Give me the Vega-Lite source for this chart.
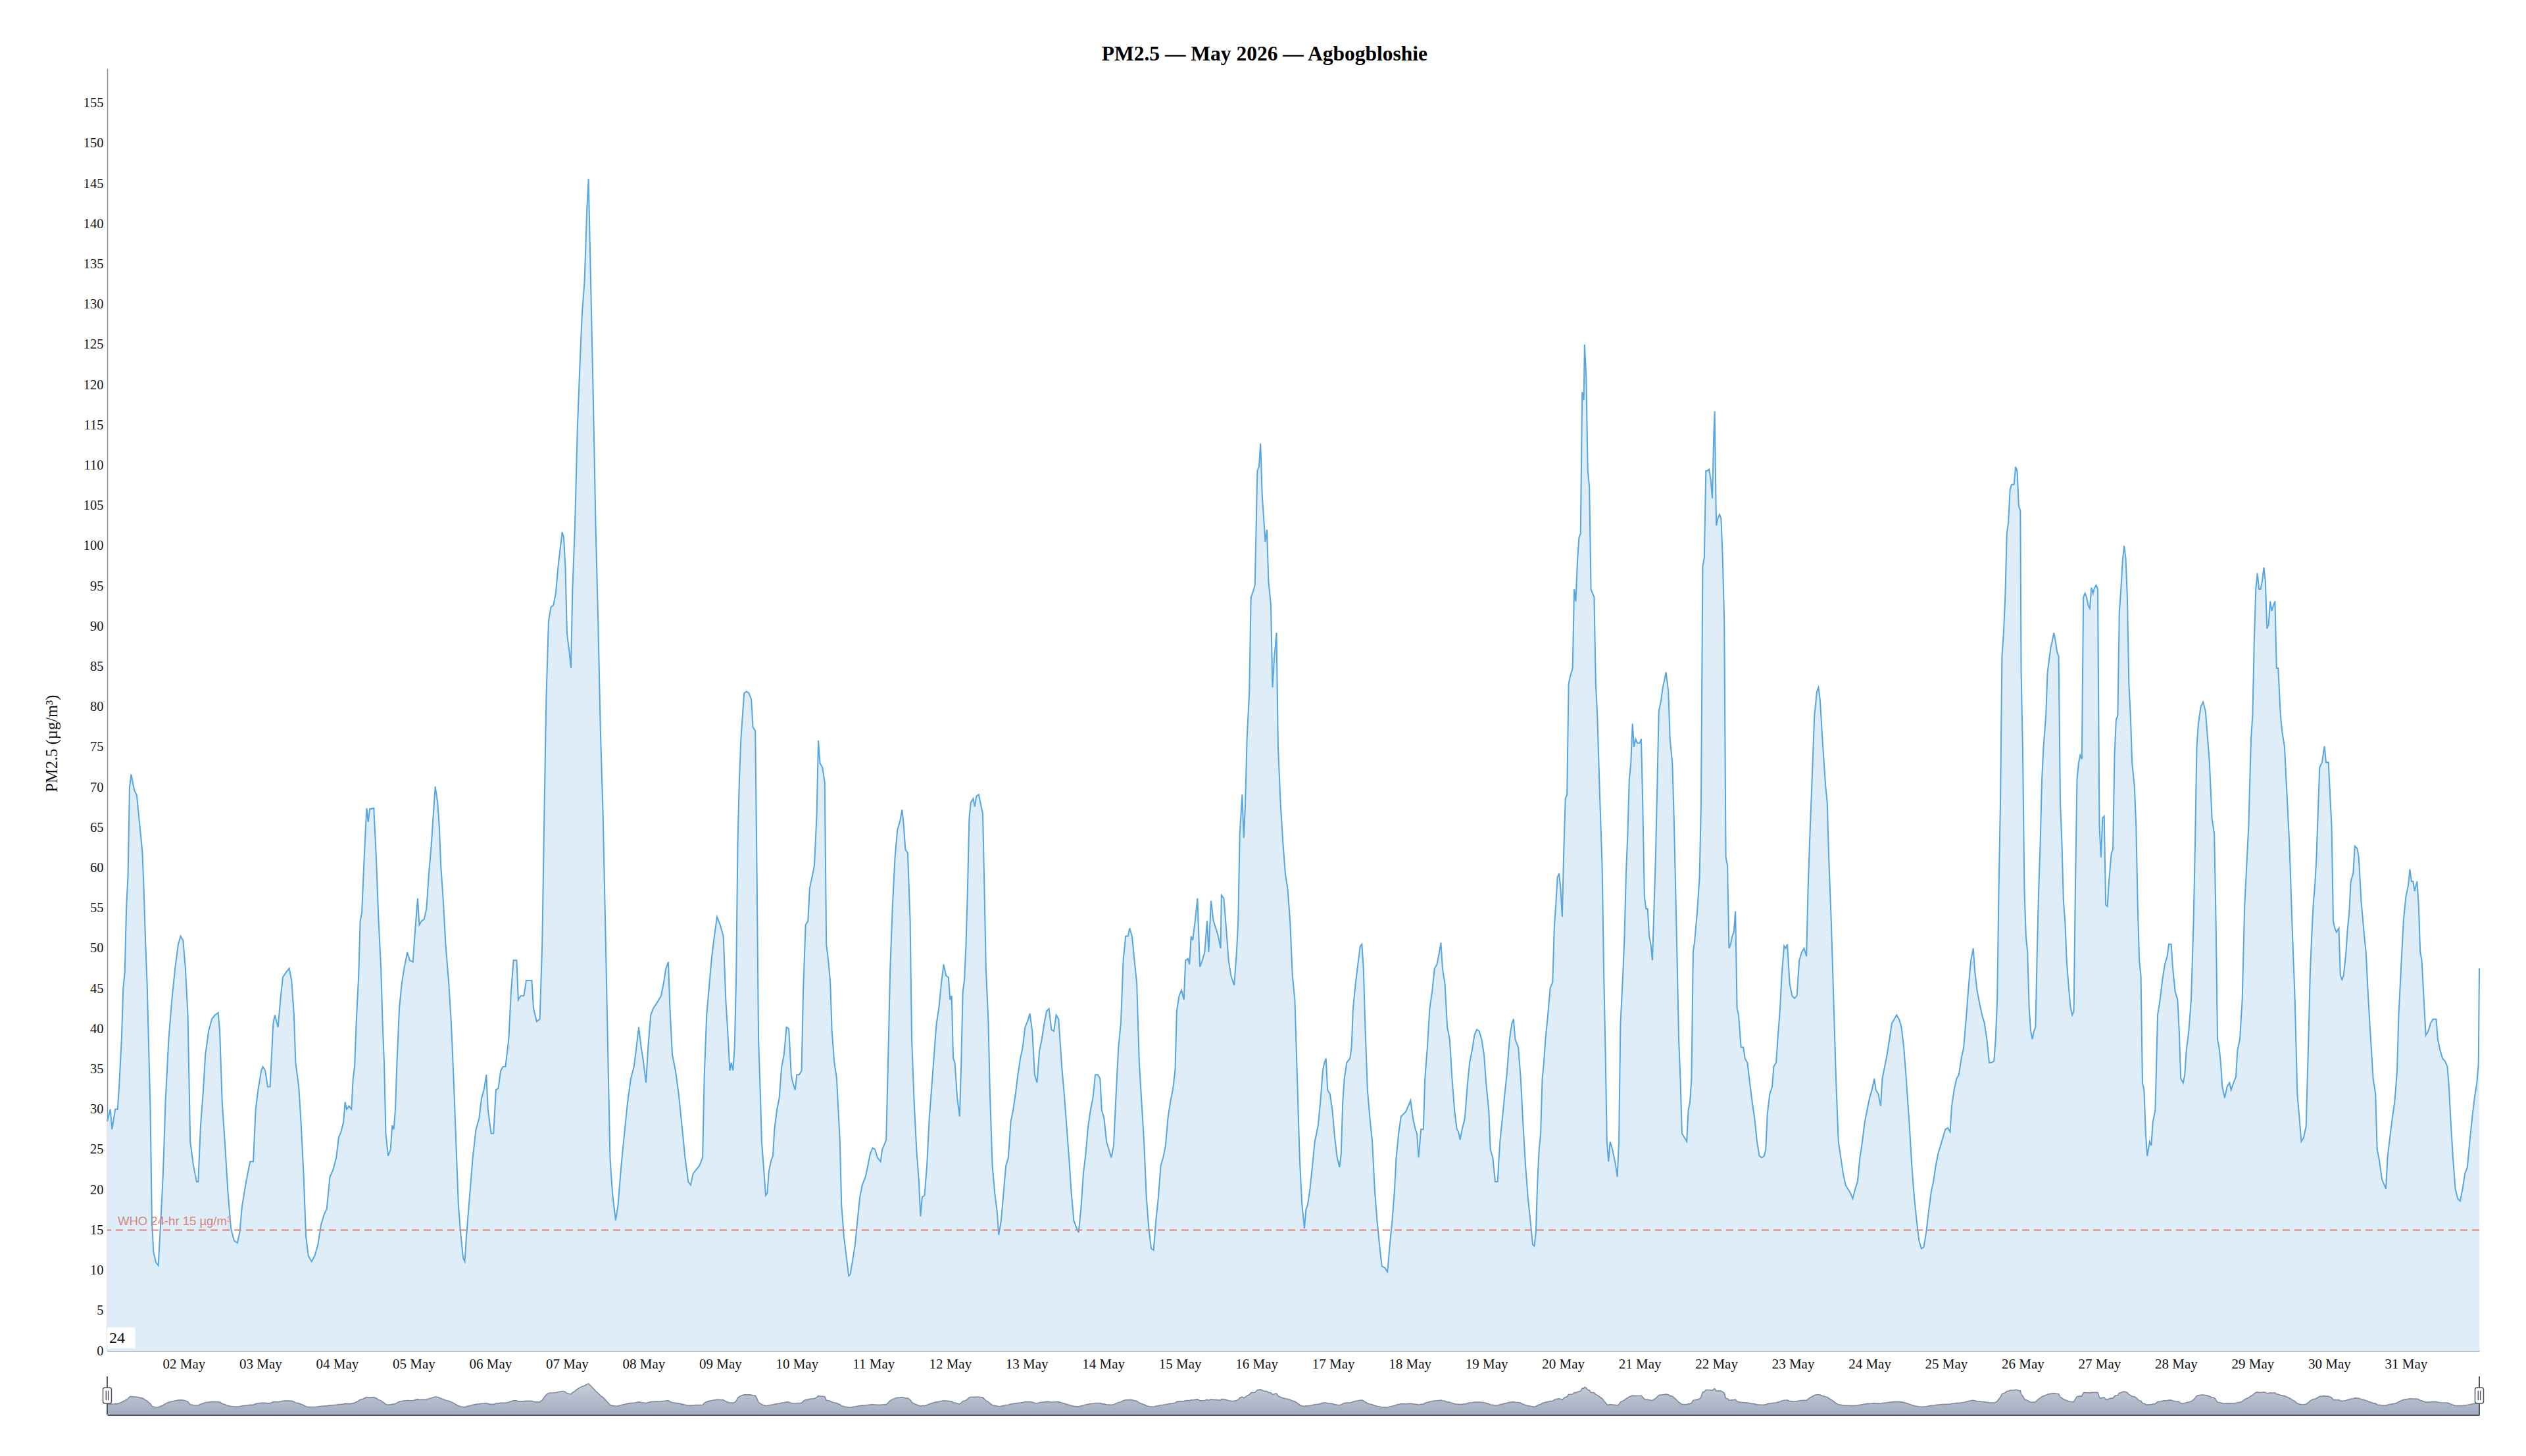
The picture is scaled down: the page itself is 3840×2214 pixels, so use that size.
{
  "$schema": "https://vega.github.io/schema/vega-lite/v6.json",
  "background": "white",
  "padding": {"left": 66, "top": 66, "right": 70, "bottom": 10},
  "title": {
    "text": "PM2.5 — May 2026 — Agbogbloshie",
    "font": "Liberation Serif",
    "fontSize": 31.5,
    "fontWeight": "bold",
    "color": "#000000",
    "anchor": "middle",
    "frame": "bounds",
    "offset": 6
  },
  "config": {
    "view": {"stroke": null},
    "axis": {
      "grid": false,
      "ticks": false,
      "labelFont": "Liberation Serif",
      "titleFont": "Liberation Serif",
      "labelColor": "#111111",
      "titleColor": "#111111",
      "domainColor": "#8c929c",
      "domainWidth": 1.5
    }
  },
  "datasets": {
    "pm": [
      {"t":"2026-05-01T00:00","v":28.5},{"t":"2026-05-01T01:00","v":30},{"t":"2026-05-01T01:30","v":27.5},{"t":"2026-05-01T02:30","v":30},{"t":"2026-05-01T03:15","v":30},{"t":"2026-05-01T03:45","v":33},{"t":"2026-05-01T04:30","v":38.7},{"t":"2026-05-01T05:00","v":45},{"t":"2026-05-01T05:30","v":47},{"t":"2026-05-01T06:00","v":55},{"t":"2026-05-01T06:30","v":59},{"t":"2026-05-01T07:00","v":70},{"t":"2026-05-01T07:30","v":71.6},{"t":"2026-05-01T08:30","v":69.6},{"t":"2026-05-01T09:15","v":69},{"t":"2026-05-01T10:15","v":65},{"t":"2026-05-01T11:00","v":62},{"t":"2026-05-01T11:30","v":57},{"t":"2026-05-01T12:00","v":50.5},{"t":"2026-05-01T12:30","v":45.6},{"t":"2026-05-01T13:00","v":37.7},{"t":"2026-05-01T13:30","v":30},{"t":"2026-05-01T14:00","v":16},{"t":"2026-05-01T14:30","v":12.3},{"t":"2026-05-01T15:15","v":11},{"t":"2026-05-01T16:00","v":10.6},{"t":"2026-05-01T16:45","v":16},{"t":"2026-05-01T17:30","v":22},{"t":"2026-05-01T18:15","v":31},{"t":"2026-05-01T19:15","v":38.7},{"t":"2026-05-01T20:15","v":43.6},{"t":"2026-05-01T21:15","v":47.5},{"t":"2026-05-01T22:15","v":50.5},{"t":"2026-05-01T23:00","v":51.5},{"t":"2026-05-01T23:45","v":51},
      {"t":"2026-05-02T00:30","v":47.5},{"t":"2026-05-02T01:15","v":41.7},{"t":"2026-05-02T02:00","v":26},{"t":"2026-05-02T03:00","v":23},{"t":"2026-05-02T04:00","v":21},{"t":"2026-05-02T04:30","v":21},{"t":"2026-05-02T05:15","v":28},{"t":"2026-05-02T06:00","v":31.9},{"t":"2026-05-02T06:45","v":36.8},{"t":"2026-05-02T07:45","v":39.7},{"t":"2026-05-02T08:45","v":41.2},{"t":"2026-05-02T09:45","v":41.7},{"t":"2026-05-02T10:45","v":42},{"t":"2026-05-02T11:15","v":39.7},{"t":"2026-05-02T12:00","v":30.9},{"t":"2026-05-02T13:00","v":25},{"t":"2026-05-02T13:45","v":20},{"t":"2026-05-02T14:45","v":15.2},{"t":"2026-05-02T15:45","v":13.7},{"t":"2026-05-02T16:45","v":13.4},{"t":"2026-05-02T17:30","v":14.7},{"t":"2026-05-02T18:15","v":18},{"t":"2026-05-02T19:30","v":21},{"t":"2026-05-02T20:45","v":23.5},{"t":"2026-05-02T21:45","v":23.5},{"t":"2026-05-02T22:30","v":30},{"t":"2026-05-02T23:15","v":32.4},
      {"t":"2026-05-03T00:15","v":34.8},{"t":"2026-05-03T00:45","v":35.3},{"t":"2026-05-03T01:30","v":34.8},{"t":"2026-05-03T02:15","v":32.8},{"t":"2026-05-03T03:00","v":32.8},{"t":"2026-05-03T04:00","v":40.7},{"t":"2026-05-03T04:30","v":41.7},{"t":"2026-05-03T05:30","v":40.2},{"t":"2026-05-03T06:15","v":43.6},{"t":"2026-05-03T07:00","v":46.4},{"t":"2026-05-03T08:00","v":47},{"t":"2026-05-03T09:00","v":47.5},{"t":"2026-05-03T09:45","v":46},{"t":"2026-05-03T10:30","v":41.7},{"t":"2026-05-03T11:00","v":35.8},{"t":"2026-05-03T12:00","v":32.8},{"t":"2026-05-03T12:45","v":28},{"t":"2026-05-03T13:30","v":22},{"t":"2026-05-03T14:15","v":14.2},{"t":"2026-05-03T15:00","v":11.8},{"t":"2026-05-03T16:00","v":11.1},{"t":"2026-05-03T17:00","v":11.8},{"t":"2026-05-03T18:00","v":13.2},{"t":"2026-05-03T19:00","v":15.7},{"t":"2026-05-03T20:00","v":17},{"t":"2026-05-03T20:45","v":17.6},{"t":"2026-05-03T21:45","v":21.6},{"t":"2026-05-03T22:45","v":22.5},{"t":"2026-05-03T23:45","v":24},
      {"t":"2026-05-04T00:30","v":26.5},{"t":"2026-05-04T01:15","v":27.2},{"t":"2026-05-04T02:00","v":28.4},{"t":"2026-05-04T02:30","v":30.9},{"t":"2026-05-04T03:00","v":30},{"t":"2026-05-04T03:45","v":30.4},{"t":"2026-05-04T04:30","v":30},{"t":"2026-05-04T05:00","v":33.8},{"t":"2026-05-04T05:30","v":35.3},{"t":"2026-05-04T06:00","v":40.7},{"t":"2026-05-04T06:45","v":46.6},{"t":"2026-05-04T07:15","v":53.4},{"t":"2026-05-04T07:45","v":54.4},{"t":"2026-05-04T08:30","v":61.3},{"t":"2026-05-04T09:15","v":67.4},{"t":"2026-05-04T09:45","v":65.7},{"t":"2026-05-04T10:15","v":67.3},{"t":"2026-05-04T11:30","v":67.4},{"t":"2026-05-04T12:15","v":61.3},{"t":"2026-05-04T13:00","v":53.4},{"t":"2026-05-04T13:45","v":47.5},{"t":"2026-05-04T14:15","v":40.7},{"t":"2026-05-04T14:45","v":35.8},{"t":"2026-05-04T15:15","v":27},{"t":"2026-05-04T16:00","v":24.2},{"t":"2026-05-04T16:45","v":25},{"t":"2026-05-04T17:15","v":28},{"t":"2026-05-04T17:45","v":27.5},{"t":"2026-05-04T18:15","v":30},{"t":"2026-05-04T18:45","v":35.8},{"t":"2026-05-04T19:30","v":42.6},{"t":"2026-05-04T20:15","v":45.6},{"t":"2026-05-04T21:00","v":47.5},{"t":"2026-05-04T22:00","v":49.5},{"t":"2026-05-04T22:45","v":48.5},{"t":"2026-05-04T23:45","v":48.3},
      {"t":"2026-05-05T00:30","v":52.5},{"t":"2026-05-05T01:15","v":56.2},{"t":"2026-05-05T01:45","v":52.9},{"t":"2026-05-05T02:30","v":53.4},{"t":"2026-05-05T03:15","v":53.6},{"t":"2026-05-05T04:00","v":54.9},{"t":"2026-05-05T04:45","v":59.3},{"t":"2026-05-05T05:30","v":62.7},{"t":"2026-05-05T06:15","v":67.2},{"t":"2026-05-05T06:45","v":70.1},{"t":"2026-05-05T07:30","v":68.1},{"t":"2026-05-05T08:00","v":65.2},{"t":"2026-05-05T08:30","v":60.3},{"t":"2026-05-05T09:15","v":55.9},{"t":"2026-05-05T10:00","v":50.5},{"t":"2026-05-05T11:00","v":45.6},{"t":"2026-05-05T11:45","v":40.7},{"t":"2026-05-05T12:30","v":33.8},{"t":"2026-05-05T13:15","v":26},{"t":"2026-05-05T14:00","v":18.1},{"t":"2026-05-05T14:45","v":14.4},{"t":"2026-05-05T15:30","v":11.5},{"t":"2026-05-05T16:00","v":11.1},{"t":"2026-05-05T16:30","v":14.2},{"t":"2026-05-05T17:30","v":19.1},{"t":"2026-05-05T18:30","v":24},{"t":"2026-05-05T19:30","v":27.5},{"t":"2026-05-05T20:30","v":28.9},{"t":"2026-05-05T21:15","v":31.4},{"t":"2026-05-05T22:00","v":32.4},{"t":"2026-05-05T22:45","v":34.3},{"t":"2026-05-05T23:15","v":30},
      {"t":"2026-05-06T00:15","v":27},{"t":"2026-05-06T01:00","v":27},{"t":"2026-05-06T01:45","v":32.4},{"t":"2026-05-06T02:30","v":32.6},{"t":"2026-05-06T03:15","v":34.8},{"t":"2026-05-06T04:00","v":35.3},{"t":"2026-05-06T04:45","v":35.3},{"t":"2026-05-06T05:45","v":38.7},{"t":"2026-05-06T06:30","v":44.6},{"t":"2026-05-06T07:15","v":48.5},{"t":"2026-05-06T08:15","v":48.5},{"t":"2026-05-06T08:45","v":43.6},{"t":"2026-05-06T09:30","v":44.1},{"t":"2026-05-06T10:30","v":44.1},{"t":"2026-05-06T11:15","v":46},{"t":"2026-05-06T12:15","v":46},{"t":"2026-05-06T13:00","v":46},{"t":"2026-05-06T13:30","v":42.6},{"t":"2026-05-06T14:30","v":40.9},{"t":"2026-05-06T15:30","v":41.2},{"t":"2026-05-06T16:15","v":50.5},{"t":"2026-05-06T16:45","v":63.2},{"t":"2026-05-06T17:30","v":80.9},{"t":"2026-05-06T18:15","v":90.7},{"t":"2026-05-06T19:00","v":92.4},{"t":"2026-05-06T19:45","v":92.6},{"t":"2026-05-06T20:30","v":94.1},{"t":"2026-05-06T21:15","v":97.5},{"t":"2026-05-06T22:00","v":100},{"t":"2026-05-06T22:30","v":101.7},{"t":"2026-05-06T23:00","v":101},{"t":"2026-05-06T23:30","v":97.5},
      {"t":"2026-05-07T00:00","v":89.2},{"t":"2026-05-07T00:45","v":86.8},{"t":"2026-05-07T01:15","v":84.8},{"t":"2026-05-07T01:45","v":94.6},{"t":"2026-05-07T02:30","v":102.5},{"t":"2026-05-07T03:15","v":114.2},{"t":"2026-05-07T04:00","v":122},{"t":"2026-05-07T04:45","v":128.9},{"t":"2026-05-07T05:30","v":132.8},{"t":"2026-05-07T06:15","v":141.7},{"t":"2026-05-07T06:45","v":145.6},{"t":"2026-05-07T07:30","v":131.9},{"t":"2026-05-07T08:15","v":118.1},{"t":"2026-05-07T09:00","v":102.5},{"t":"2026-05-07T09:45","v":90.7},{"t":"2026-05-07T10:30","v":77},{"t":"2026-05-07T11:15","v":67.2},{"t":"2026-05-07T12:00","v":53.4},{"t":"2026-05-07T12:45","v":38.7},{"t":"2026-05-07T13:30","v":24},{"t":"2026-05-07T14:15","v":19.6},{"t":"2026-05-07T15:15","v":16.2},{"t":"2026-05-07T16:00","v":18.1},{"t":"2026-05-07T17:00","v":23},{"t":"2026-05-07T18:00","v":27},{"t":"2026-05-07T19:00","v":30.9},{"t":"2026-05-07T20:00","v":33.8},{"t":"2026-05-07T21:00","v":35.3},{"t":"2026-05-07T21:45","v":37.7},{"t":"2026-05-07T22:30","v":40.2},{"t":"2026-05-07T23:15","v":37.7},
      {"t":"2026-05-08T00:00","v":35.8},{"t":"2026-05-08T00:45","v":33.3},{"t":"2026-05-08T01:30","v":38.2},{"t":"2026-05-08T02:15","v":41.7},{"t":"2026-05-08T03:00","v":42.5},{"t":"2026-05-08T04:00","v":43.1},{"t":"2026-05-08T04:45","v":43.6},{"t":"2026-05-08T05:30","v":44.1},{"t":"2026-05-08T06:15","v":45.6},{"t":"2026-05-08T07:00","v":47.5},{"t":"2026-05-08T07:45","v":48.3},{"t":"2026-05-08T08:15","v":42.6},{"t":"2026-05-08T09:00","v":36.8},{"t":"2026-05-08T10:00","v":34.8},{"t":"2026-05-08T11:00","v":31.9},{"t":"2026-05-08T12:00","v":28},{"t":"2026-05-08T13:00","v":24},{"t":"2026-05-08T14:00","v":21},{"t":"2026-05-08T14:45","v":20.6},{"t":"2026-05-08T15:30","v":22},{"t":"2026-05-08T16:30","v":22.5},{"t":"2026-05-08T17:30","v":23},{"t":"2026-05-08T18:30","v":24},{"t":"2026-05-08T19:00","v":33.8},{"t":"2026-05-08T19:45","v":41.7},{"t":"2026-05-08T20:30","v":45.1},{"t":"2026-05-08T21:15","v":48.5},{"t":"2026-05-08T22:00","v":51},{"t":"2026-05-08T23:00","v":53.9},
      {"t":"2026-05-09T00:00","v":52.9},{"t":"2026-05-09T01:00","v":51.5},{"t":"2026-05-09T01:45","v":43.6},{"t":"2026-05-09T02:30","v":38.7},{"t":"2026-05-09T03:00","v":34.8},{"t":"2026-05-09T03:30","v":35.8},{"t":"2026-05-09T04:00","v":34.8},{"t":"2026-05-09T04:30","v":37.7},{"t":"2026-05-09T05:00","v":46.1},{"t":"2026-05-09T05:30","v":63.2},{"t":"2026-05-09T06:00","v":71},{"t":"2026-05-09T06:30","v":76},{"t":"2026-05-09T07:00","v":78.9},{"t":"2026-05-09T07:30","v":81.7},{"t":"2026-05-09T08:15","v":81.9},{"t":"2026-05-09T09:00","v":81.7},{"t":"2026-05-09T09:45","v":80.9},{"t":"2026-05-09T10:15","v":77.5},{"t":"2026-05-09T11:00","v":77},{"t":"2026-05-09T11:30","v":59.3},{"t":"2026-05-09T12:00","v":38.7},{"t":"2026-05-09T12:30","v":32.8},{"t":"2026-05-09T13:00","v":26},{"t":"2026-05-09T13:45","v":22},{"t":"2026-05-09T14:15","v":19.3},{"t":"2026-05-09T14:45","v":19.6},{"t":"2026-05-09T15:15","v":22.3},{"t":"2026-05-09T16:00","v":23.7},{"t":"2026-05-09T16:30","v":24.2},{"t":"2026-05-09T17:00","v":27.5},{"t":"2026-05-09T17:45","v":29.9},{"t":"2026-05-09T18:30","v":31.4},{"t":"2026-05-09T19:15","v":35.3},{"t":"2026-05-09T20:00","v":36.8},{"t":"2026-05-09T20:45","v":40.2},{"t":"2026-05-09T21:30","v":40},{"t":"2026-05-09T22:15","v":34.3},{"t":"2026-05-09T22:45","v":33.3},{"t":"2026-05-09T23:30","v":32.4},
      {"t":"2026-05-10T00:00","v":34.3},{"t":"2026-05-10T00:45","v":34.3},{"t":"2026-05-10T01:30","v":34.8},{"t":"2026-05-10T02:00","v":44.6},{"t":"2026-05-10T02:45","v":52.9},{"t":"2026-05-10T03:30","v":53.4},{"t":"2026-05-10T04:00","v":57.4},{"t":"2026-05-10T04:45","v":58.8},{"t":"2026-05-10T05:30","v":60.3},{"t":"2026-05-10T06:15","v":66.7},{"t":"2026-05-10T06:45","v":75.8},{"t":"2026-05-10T07:15","v":73},{"t":"2026-05-10T08:00","v":72.5},{"t":"2026-05-10T08:45","v":70.6},{"t":"2026-05-10T09:15","v":50.5},{"t":"2026-05-10T10:00","v":48},{"t":"2026-05-10T10:30","v":45.6},{"t":"2026-05-10T11:00","v":39.7},{"t":"2026-05-10T11:45","v":35.8},{"t":"2026-05-10T12:30","v":33.8},{"t":"2026-05-10T13:00","v":29.9},{"t":"2026-05-10T13:30","v":26},{"t":"2026-05-10T14:00","v":18.1},{"t":"2026-05-10T14:45","v":14.2},{"t":"2026-05-10T15:30","v":11.8},{"t":"2026-05-10T16:15","v":9.3},{"t":"2026-05-10T16:45","v":9.5},{"t":"2026-05-10T17:30","v":11.3},{"t":"2026-05-10T18:15","v":13.2},{"t":"2026-05-10T19:00","v":16.2},{"t":"2026-05-10T19:45","v":19.1},{"t":"2026-05-10T20:30","v":20.6},{"t":"2026-05-10T21:30","v":21.6},{"t":"2026-05-10T22:15","v":23},{"t":"2026-05-10T23:00","v":24.5},{"t":"2026-05-10T23:45","v":25.2},
      {"t":"2026-05-11T00:30","v":25},{"t":"2026-05-11T01:15","v":24},{"t":"2026-05-11T02:15","v":23.5},{"t":"2026-05-11T02:45","v":25},{"t":"2026-05-11T03:30","v":25.7},{"t":"2026-05-11T04:00","v":26.2},{"t":"2026-05-11T04:45","v":38.7},{"t":"2026-05-11T05:15","v":47.5},{"t":"2026-05-11T06:00","v":55.4},{"t":"2026-05-11T06:45","v":61.3},{"t":"2026-05-11T07:30","v":64.7},{"t":"2026-05-11T08:15","v":65.7},{"t":"2026-05-11T09:00","v":67.2},{"t":"2026-05-11T09:30","v":65.2},{"t":"2026-05-11T10:00","v":62.3},{"t":"2026-05-11T10:45","v":61.8},{"t":"2026-05-11T11:30","v":53.4},{"t":"2026-05-11T12:00","v":38.7},{"t":"2026-05-11T12:45","v":30.9},{"t":"2026-05-11T13:30","v":25},{"t":"2026-05-11T14:15","v":21},{"t":"2026-05-11T14:45","v":16.7},{"t":"2026-05-11T15:15","v":19.1},{"t":"2026-05-11T16:00","v":19.3},{"t":"2026-05-11T16:45","v":23},{"t":"2026-05-11T17:30","v":28.9},{"t":"2026-05-11T18:15","v":32.8},{"t":"2026-05-11T19:00","v":36.8},{"t":"2026-05-11T19:45","v":40.7},{"t":"2026-05-11T20:30","v":42.6},{"t":"2026-05-11T21:15","v":45.6},{"t":"2026-05-11T22:00","v":48},{"t":"2026-05-11T22:45","v":46.6},{"t":"2026-05-11T23:30","v":46.4},
      {"t":"2026-05-12T00:00","v":43.6},{"t":"2026-05-12T00:30","v":44.1},{"t":"2026-05-12T01:00","v":36.3},{"t":"2026-05-12T01:30","v":35.8},{"t":"2026-05-12T02:15","v":31.4},{"t":"2026-05-12T03:00","v":29.1},{"t":"2026-05-12T03:30","v":35.8},{"t":"2026-05-12T04:00","v":44.6},{"t":"2026-05-12T04:30","v":46.1},{"t":"2026-05-12T05:00","v":50.5},{"t":"2026-05-12T05:30","v":57.4},{"t":"2026-05-12T06:00","v":66.2},{"t":"2026-05-12T06:30","v":68.1},{"t":"2026-05-12T07:15","v":68.6},{"t":"2026-05-12T07:45","v":67.6},{"t":"2026-05-12T08:15","v":68.9},{"t":"2026-05-12T09:00","v":69.1},{"t":"2026-05-12T09:30","v":68.1},{"t":"2026-05-12T10:15","v":66.7},{"t":"2026-05-12T10:45","v":57.4},{"t":"2026-05-12T11:15","v":47.5},{"t":"2026-05-12T12:00","v":40.7},{"t":"2026-05-12T12:30","v":31.9},{"t":"2026-05-12T13:15","v":23},{"t":"2026-05-12T14:00","v":19.6},{"t":"2026-05-12T14:45","v":17.2},{"t":"2026-05-12T15:15","v":14.4},{"t":"2026-05-12T16:00","v":16.2},{"t":"2026-05-12T16:45","v":19.6},{"t":"2026-05-12T17:30","v":23},{"t":"2026-05-12T18:15","v":24},{"t":"2026-05-12T19:00","v":28.4},{"t":"2026-05-12T19:45","v":29.9},{"t":"2026-05-12T20:30","v":31.9},{"t":"2026-05-12T21:15","v":34.3},{"t":"2026-05-12T22:00","v":36.3},{"t":"2026-05-12T22:45","v":37.7},{"t":"2026-05-12T23:30","v":40.2},
      {"t":"2026-05-13T00:15","v":40.9},{"t":"2026-05-13T01:00","v":41.9},{"t":"2026-05-13T01:45","v":39.7},{"t":"2026-05-13T02:30","v":34.3},{"t":"2026-05-13T03:15","v":33.3},{"t":"2026-05-13T04:00","v":37.3},{"t":"2026-05-13T04:45","v":38.7},{"t":"2026-05-13T05:30","v":40.7},{"t":"2026-05-13T06:15","v":42.2},{"t":"2026-05-13T07:00","v":42.5},{"t":"2026-05-13T07:45","v":39.9},{"t":"2026-05-13T08:30","v":39.7},{"t":"2026-05-13T09:15","v":41.7},{"t":"2026-05-13T10:00","v":41.2},{"t":"2026-05-13T11:00","v":35.3},{"t":"2026-05-13T11:45","v":31.9},{"t":"2026-05-13T12:30","v":28},{"t":"2026-05-13T13:15","v":24},{"t":"2026-05-13T14:00","v":19.6},{"t":"2026-05-13T14:45","v":16.2},{"t":"2026-05-13T15:30","v":15.4},{"t":"2026-05-13T16:15","v":14.7},{"t":"2026-05-13T17:00","v":17.6},{"t":"2026-05-13T17:45","v":22},{"t":"2026-05-13T18:30","v":24.5},{"t":"2026-05-13T19:15","v":27.9},{"t":"2026-05-13T20:00","v":29.9},{"t":"2026-05-13T20:45","v":31.4},{"t":"2026-05-13T21:30","v":34.3},{"t":"2026-05-13T22:15","v":34.3},{"t":"2026-05-13T23:00","v":33.8},{"t":"2026-05-13T23:30","v":29.9},
      {"t":"2026-05-14T00:15","v":28.9},{"t":"2026-05-14T01:00","v":26},{"t":"2026-05-14T01:45","v":25},{"t":"2026-05-14T02:30","v":24},{"t":"2026-05-14T03:15","v":25.5},{"t":"2026-05-14T04:00","v":31.9},{"t":"2026-05-14T04:45","v":37.7},{"t":"2026-05-14T05:30","v":40.7},{"t":"2026-05-14T06:15","v":48.5},{"t":"2026-05-14T07:00","v":51.5},{"t":"2026-05-14T07:45","v":51.5},{"t":"2026-05-14T08:15","v":52.5},{"t":"2026-05-14T09:00","v":51.5},{"t":"2026-05-14T09:45","v":48.5},{"t":"2026-05-14T10:30","v":45.6},{"t":"2026-05-14T11:15","v":35.8},{"t":"2026-05-14T12:00","v":30.9},{"t":"2026-05-14T12:45","v":26},{"t":"2026-05-14T13:30","v":19.1},{"t":"2026-05-14T14:15","v":15.2},{"t":"2026-05-14T15:00","v":12.7},{"t":"2026-05-14T15:45","v":12.5},{"t":"2026-05-14T16:30","v":16.2},{"t":"2026-05-14T17:15","v":19.1},{"t":"2026-05-14T18:00","v":23},{"t":"2026-05-14T18:45","v":24},{"t":"2026-05-14T19:30","v":25.5},{"t":"2026-05-14T20:15","v":28.9},{"t":"2026-05-14T21:00","v":30.9},{"t":"2026-05-14T21:45","v":32.4},{"t":"2026-05-14T22:30","v":34.8},{"t":"2026-05-14T23:00","v":42.2},{"t":"2026-05-14T23:45","v":44.1},
      {"t":"2026-05-15T00:30","v":44.8},{"t":"2026-05-15T01:15","v":43.6},{"t":"2026-05-15T01:45","v":48.5},{"t":"2026-05-15T02:30","v":48.7},{"t":"2026-05-15T03:00","v":48},{"t":"2026-05-15T03:30","v":51.5},{"t":"2026-05-15T04:00","v":51},{"t":"2026-05-15T04:45","v":53.4},{"t":"2026-05-15T05:30","v":56.2},{"t":"2026-05-15T06:15","v":47.7},{"t":"2026-05-15T07:00","v":48.5},{"t":"2026-05-15T07:45","v":49.5},{"t":"2026-05-15T08:30","v":53.4},{"t":"2026-05-15T09:00","v":49.5},{"t":"2026-05-15T09:45","v":55.9},{"t":"2026-05-15T10:30","v":53.4},{"t":"2026-05-15T11:15","v":52.5},{"t":"2026-05-15T12:00","v":51.5},{"t":"2026-05-15T12:45","v":50},{"t":"2026-05-15T13:00","v":56.6},{"t":"2026-05-15T13:45","v":56.2},{"t":"2026-05-15T14:30","v":52.5},{"t":"2026-05-15T15:15","v":48.5},{"t":"2026-05-15T16:00","v":46.6},{"t":"2026-05-15T17:00","v":45.4},{"t":"2026-05-15T17:45","v":49.5},{"t":"2026-05-15T18:15","v":53.4},{"t":"2026-05-15T18:45","v":64.2},{"t":"2026-05-15T19:30","v":69.1},{"t":"2026-05-15T20:00","v":63.7},{"t":"2026-05-15T20:30","v":68.1},{"t":"2026-05-15T21:00","v":76},{"t":"2026-05-15T21:45","v":81.9},{"t":"2026-05-15T22:15","v":93.6},{"t":"2026-05-15T22:45","v":94.1},{"t":"2026-05-15T23:30","v":95.1},
      {"t":"2026-05-16T00:15","v":109.3},{"t":"2026-05-16T00:45","v":109.8},{"t":"2026-05-16T01:15","v":112.7},{"t":"2026-05-16T01:45","v":106.4},{"t":"2026-05-16T02:15","v":103.4},{"t":"2026-05-16T02:45","v":100.5},{"t":"2026-05-16T03:15","v":102},{"t":"2026-05-16T03:45","v":95.6},{"t":"2026-05-16T04:30","v":92.6},{"t":"2026-05-16T05:00","v":82.4},{"t":"2026-05-16T05:30","v":85.8},{"t":"2026-05-16T06:15","v":89.2},{"t":"2026-05-16T06:45","v":75},{"t":"2026-05-16T07:30","v":68.1},{"t":"2026-05-16T08:15","v":63.2},{"t":"2026-05-16T09:00","v":59.3},{"t":"2026-05-16T09:45","v":57.4},{"t":"2026-05-16T10:30","v":53.4},{"t":"2026-05-16T11:15","v":46.6},{"t":"2026-05-16T12:00","v":43.6},{"t":"2026-05-16T12:45","v":33.8},{"t":"2026-05-16T13:30","v":24},{"t":"2026-05-16T14:15","v":18.1},{"t":"2026-05-16T15:00","v":15.2},{"t":"2026-05-16T15:30","v":17.6},{"t":"2026-05-16T16:00","v":18.1},{"t":"2026-05-16T16:45","v":20.1},{"t":"2026-05-16T17:30","v":23},{"t":"2026-05-16T18:15","v":26},{"t":"2026-05-16T19:15","v":27.9},{"t":"2026-05-16T20:00","v":30.9},{"t":"2026-05-16T20:45","v":34.8},{"t":"2026-05-16T21:15","v":35.8},{"t":"2026-05-16T21:45","v":36.3},{"t":"2026-05-16T22:15","v":32.4},{"t":"2026-05-16T23:00","v":31.9},{"t":"2026-05-16T23:45","v":29.9},
      {"t":"2026-05-17T00:30","v":26.5},{"t":"2026-05-17T01:15","v":24},{"t":"2026-05-17T02:00","v":22.8},{"t":"2026-05-17T02:30","v":24.5},{"t":"2026-05-17T03:00","v":30.9},{"t":"2026-05-17T03:30","v":33.8},{"t":"2026-05-17T04:15","v":35.8},{"t":"2026-05-17T05:15","v":36.3},{"t":"2026-05-17T05:45","v":37.7},{"t":"2026-05-17T06:15","v":42.6},{"t":"2026-05-17T07:00","v":45.6},{"t":"2026-05-17T07:45","v":48},{"t":"2026-05-17T08:30","v":50.3},{"t":"2026-05-17T09:00","v":50.5},{"t":"2026-05-17T09:30","v":47.5},{"t":"2026-05-17T10:00","v":40.7},{"t":"2026-05-17T10:45","v":32.4},{"t":"2026-05-17T11:30","v":28.9},{"t":"2026-05-17T12:15","v":26},{"t":"2026-05-17T13:00","v":20.1},{"t":"2026-05-17T13:45","v":16.2},{"t":"2026-05-17T14:30","v":13.2},{"t":"2026-05-17T15:15","v":10.5},{"t":"2026-05-17T16:15","v":10.3},{"t":"2026-05-17T17:00","v":9.8},{"t":"2026-05-17T17:45","v":13.2},{"t":"2026-05-17T18:30","v":16.2},{"t":"2026-05-17T19:15","v":20.1},{"t":"2026-05-17T19:45","v":24},{"t":"2026-05-17T20:30","v":27},{"t":"2026-05-17T21:15","v":29.1},{"t":"2026-05-17T22:00","v":29.4},{"t":"2026-05-17T22:45","v":29.7},{"t":"2026-05-17T23:30","v":30.4},
      {"t":"2026-05-18T00:15","v":31.1},{"t":"2026-05-18T01:00","v":28.9},{"t":"2026-05-18T01:45","v":27.5},{"t":"2026-05-18T02:15","v":27},{"t":"2026-05-18T02:45","v":24},{"t":"2026-05-18T03:30","v":27.5},{"t":"2026-05-18T04:15","v":27.5},{"t":"2026-05-18T04:45","v":33.8},{"t":"2026-05-18T05:30","v":37.7},{"t":"2026-05-18T06:15","v":42.6},{"t":"2026-05-18T07:00","v":44.6},{"t":"2026-05-18T07:45","v":47.5},{"t":"2026-05-18T08:30","v":48},{"t":"2026-05-18T09:15","v":49.5},{"t":"2026-05-18T09:45","v":50.7},{"t":"2026-05-18T10:15","v":47.5},{"t":"2026-05-18T11:00","v":45.6},{"t":"2026-05-18T11:45","v":40.2},{"t":"2026-05-18T12:30","v":38.7},{"t":"2026-05-18T13:15","v":33.8},{"t":"2026-05-18T14:00","v":29.9},{"t":"2026-05-18T14:45","v":27.5},{"t":"2026-05-18T15:15","v":27.2},{"t":"2026-05-18T15:45","v":26.2},{"t":"2026-05-18T16:30","v":27.7},{"t":"2026-05-18T17:15","v":28.9},{"t":"2026-05-18T18:00","v":32.8},{"t":"2026-05-18T18:45","v":35.8},{"t":"2026-05-18T19:30","v":37.3},{"t":"2026-05-18T20:15","v":39.2},{"t":"2026-05-18T21:00","v":39.9},{"t":"2026-05-18T21:45","v":39.7},{"t":"2026-05-18T22:30","v":38.7},{"t":"2026-05-18T23:15","v":36.8},
      {"t":"2026-05-19T00:00","v":32.8},{"t":"2026-05-19T00:45","v":29.9},{"t":"2026-05-19T01:15","v":25},{"t":"2026-05-19T02:00","v":24},{"t":"2026-05-19T02:45","v":21},{"t":"2026-05-19T03:30","v":21},{"t":"2026-05-19T04:15","v":26},{"t":"2026-05-19T05:00","v":28.9},{"t":"2026-05-19T05:45","v":31.9},{"t":"2026-05-19T06:30","v":34.8},{"t":"2026-05-19T07:15","v":38.7},{"t":"2026-05-19T08:00","v":40.7},{"t":"2026-05-19T08:30","v":41.2},{"t":"2026-05-19T09:00","v":38.7},{"t":"2026-05-19T10:00","v":37.7},{"t":"2026-05-19T10:45","v":33.8},{"t":"2026-05-19T11:30","v":28},{"t":"2026-05-19T12:15","v":23},{"t":"2026-05-19T13:00","v":19.1},{"t":"2026-05-19T13:45","v":16.2},{"t":"2026-05-19T14:30","v":13.2},{"t":"2026-05-19T15:00","v":13},{"t":"2026-05-19T15:30","v":14.7},{"t":"2026-05-19T16:00","v":21},{"t":"2026-05-19T16:30","v":25},{"t":"2026-05-19T17:00","v":27},{"t":"2026-05-19T17:30","v":33.8},{"t":"2026-05-19T18:00","v":35.8},{"t":"2026-05-19T18:30","v":38.7},{"t":"2026-05-19T19:15","v":41.7},{"t":"2026-05-19T20:00","v":45.1},{"t":"2026-05-19T20:45","v":45.8},{"t":"2026-05-19T21:15","v":52.5},{"t":"2026-05-19T21:45","v":55.4},{"t":"2026-05-19T22:15","v":58.8},{"t":"2026-05-19T22:45","v":59.3},{"t":"2026-05-19T23:15","v":57.4},{"t":"2026-05-19T23:45","v":53.9},
      {"t":"2026-05-20T00:15","v":62.3},{"t":"2026-05-20T00:45","v":68.6},{"t":"2026-05-20T01:15","v":69.1},{"t":"2026-05-20T01:45","v":82.8},{"t":"2026-05-20T02:15","v":83.8},{"t":"2026-05-20T03:00","v":84.8},{"t":"2026-05-20T03:30","v":94.6},{"t":"2026-05-20T04:00","v":93.1},{"t":"2026-05-20T04:30","v":98},{"t":"2026-05-20T05:00","v":101},{"t":"2026-05-20T05:30","v":101.5},{"t":"2026-05-20T06:00","v":119.1},{"t":"2026-05-20T06:30","v":118.1},{"t":"2026-05-20T06:45","v":125},{"t":"2026-05-20T07:15","v":121.1},{"t":"2026-05-20T07:45","v":109.3},{"t":"2026-05-20T08:15","v":107.4},{"t":"2026-05-20T08:45","v":94.6},{"t":"2026-05-20T09:15","v":94.1},{"t":"2026-05-20T09:45","v":93.6},{"t":"2026-05-20T10:15","v":82.8},{"t":"2026-05-20T10:45","v":78.9},{"t":"2026-05-20T11:30","v":69.1},{"t":"2026-05-20T12:15","v":60.3},{"t":"2026-05-20T12:45","v":47.5},{"t":"2026-05-20T13:15","v":37.7},{"t":"2026-05-20T13:45","v":26},{"t":"2026-05-20T14:15","v":23.5},{"t":"2026-05-20T14:45","v":26},{"t":"2026-05-20T15:30","v":25},{"t":"2026-05-20T16:00","v":24},{"t":"2026-05-20T16:30","v":23},{"t":"2026-05-20T17:00","v":21.6},{"t":"2026-05-20T17:30","v":26},{"t":"2026-05-20T18:00","v":40.7},{"t":"2026-05-20T18:45","v":46.6},{"t":"2026-05-20T19:15","v":51.5},{"t":"2026-05-20T19:45","v":59.3},{"t":"2026-05-20T20:15","v":64.2},{"t":"2026-05-20T20:45","v":71},{"t":"2026-05-20T21:15","v":73},{"t":"2026-05-20T21:45","v":77.9},{"t":"2026-05-20T22:15","v":75},{"t":"2026-05-20T22:45","v":76},{"t":"2026-05-20T23:15","v":75.5},
      {"t":"2026-05-21T00:00","v":75.5},{"t":"2026-05-21T00:30","v":76},{"t":"2026-05-21T01:00","v":67.2},{"t":"2026-05-21T01:30","v":56.4},{"t":"2026-05-21T02:00","v":54.9},{"t":"2026-05-21T02:30","v":54.9},{"t":"2026-05-21T03:00","v":51.5},{"t":"2026-05-21T03:30","v":50.5},{"t":"2026-05-21T04:00","v":48.5},{"t":"2026-05-21T04:30","v":54.9},{"t":"2026-05-21T05:00","v":61.3},{"t":"2026-05-21T05:30","v":70.1},{"t":"2026-05-21T06:00","v":79.4},{"t":"2026-05-21T06:45","v":80.9},{"t":"2026-05-21T07:15","v":82.4},{"t":"2026-05-21T07:45","v":83.3},{"t":"2026-05-21T08:15","v":84.3},{"t":"2026-05-21T09:00","v":81.9},{"t":"2026-05-21T09:30","v":76},{"t":"2026-05-21T10:15","v":73},{"t":"2026-05-21T10:45","v":66.2},{"t":"2026-05-21T11:15","v":57.4},{"t":"2026-05-21T11:45","v":48.5},{"t":"2026-05-21T12:15","v":38.7},{"t":"2026-05-21T12:45","v":33.8},{"t":"2026-05-21T13:15","v":27},{"t":"2026-05-21T14:00","v":26.5},{"t":"2026-05-21T14:45","v":26},{"t":"2026-05-21T15:15","v":29.9},{"t":"2026-05-21T15:45","v":30.9},{"t":"2026-05-21T16:15","v":33.8},{"t":"2026-05-21T16:45","v":49.5},{"t":"2026-05-21T17:15","v":51},{"t":"2026-05-21T18:00","v":54.4},{"t":"2026-05-21T18:45","v":58.8},{"t":"2026-05-21T19:15","v":68.1},{"t":"2026-05-21T19:45","v":97.5},{"t":"2026-05-21T20:15","v":98.5},{"t":"2026-05-21T20:45","v":109.3},{"t":"2026-05-21T21:15","v":109.3},{"t":"2026-05-21T21:45","v":109.5},{"t":"2026-05-21T22:15","v":108.3},{"t":"2026-05-21T22:45","v":105.9},{"t":"2026-05-21T23:15","v":114.2},{"t":"2026-05-21T23:30","v":116.7},
      {"t":"2026-05-22T00:00","v":102.5},{"t":"2026-05-22T00:30","v":103.4},{"t":"2026-05-22T01:00","v":103.9},{"t":"2026-05-22T01:30","v":103.4},{"t":"2026-05-22T02:00","v":98.5},{"t":"2026-05-22T02:30","v":90.7},{"t":"2026-05-22T03:00","v":61.3},{"t":"2026-05-22T03:30","v":60.3},{"t":"2026-05-22T04:00","v":50},{"t":"2026-05-22T04:30","v":50.5},{"t":"2026-05-22T05:00","v":51.5},{"t":"2026-05-22T05:30","v":52},{"t":"2026-05-22T06:00","v":54.6},{"t":"2026-05-22T06:30","v":42.6},{"t":"2026-05-22T07:00","v":41.7},{"t":"2026-05-22T07:45","v":37.7},{"t":"2026-05-22T08:30","v":37.7},{"t":"2026-05-22T09:00","v":36.3},{"t":"2026-05-22T09:45","v":35.8},{"t":"2026-05-22T10:30","v":33.3},{"t":"2026-05-22T11:15","v":30.9},{"t":"2026-05-22T12:00","v":28.9},{"t":"2026-05-22T12:45","v":26},{"t":"2026-05-22T13:30","v":24.2},{"t":"2026-05-22T14:15","v":24},{"t":"2026-05-22T15:00","v":24.2},{"t":"2026-05-22T15:30","v":25},{"t":"2026-05-22T16:00","v":29.4},{"t":"2026-05-22T16:45","v":31.9},{"t":"2026-05-22T17:30","v":32.8},{"t":"2026-05-22T18:00","v":35.3},{"t":"2026-05-22T18:45","v":35.8},{"t":"2026-05-22T19:15","v":38.7},{"t":"2026-05-22T20:00","v":42.6},{"t":"2026-05-22T20:30","v":46.6},{"t":"2026-05-22T21:15","v":50.3},{"t":"2026-05-22T21:45","v":50},{"t":"2026-05-22T22:15","v":50.5},{"t":"2026-05-22T23:00","v":45.6},{"t":"2026-05-22T23:45","v":44.1},
      {"t":"2026-05-23T00:30","v":43.8},{"t":"2026-05-23T01:15","v":44.1},{"t":"2026-05-23T02:00","v":48.5},{"t":"2026-05-23T02:45","v":49.5},{"t":"2026-05-23T03:30","v":50},{"t":"2026-05-23T04:15","v":49},{"t":"2026-05-23T04:45","v":57.4},{"t":"2026-05-23T05:15","v":63.2},{"t":"2026-05-23T06:00","v":71},{"t":"2026-05-23T06:45","v":78.9},{"t":"2026-05-23T07:30","v":81.9},{"t":"2026-05-23T08:00","v":82.4},{"t":"2026-05-23T08:30","v":80.9},{"t":"2026-05-23T09:15","v":76},{"t":"2026-05-23T09:45","v":73},{"t":"2026-05-23T10:15","v":70.1},{"t":"2026-05-23T10:45","v":68.1},{"t":"2026-05-23T11:15","v":61.3},{"t":"2026-05-23T12:00","v":53.4},{"t":"2026-05-23T12:45","v":43.6},{"t":"2026-05-23T13:30","v":33.8},{"t":"2026-05-23T14:15","v":26},{"t":"2026-05-23T15:00","v":24},{"t":"2026-05-23T15:45","v":22},{"t":"2026-05-23T16:30","v":20.6},{"t":"2026-05-23T17:15","v":20.1},{"t":"2026-05-23T18:00","v":19.6},{"t":"2026-05-23T18:45","v":18.9},{"t":"2026-05-23T19:30","v":20.1},{"t":"2026-05-23T20:15","v":21},{"t":"2026-05-23T21:00","v":24},{"t":"2026-05-23T21:45","v":26},{"t":"2026-05-23T22:30","v":28.4},{"t":"2026-05-23T23:15","v":29.9},
      {"t":"2026-05-24T00:00","v":31.4},{"t":"2026-05-24T00:45","v":32.4},{"t":"2026-05-24T01:30","v":33.8},{"t":"2026-05-24T02:00","v":32.4},{"t":"2026-05-24T02:45","v":31.9},{"t":"2026-05-24T03:30","v":30.4},{"t":"2026-05-24T04:00","v":33.8},{"t":"2026-05-24T04:45","v":35.3},{"t":"2026-05-24T05:30","v":36.8},{"t":"2026-05-24T06:15","v":38.7},{"t":"2026-05-24T07:00","v":40.7},{"t":"2026-05-24T07:45","v":41.2},{"t":"2026-05-24T08:30","v":41.7},{"t":"2026-05-24T09:15","v":41.2},{"t":"2026-05-24T10:00","v":40.2},{"t":"2026-05-24T10:45","v":37.7},{"t":"2026-05-24T11:30","v":33.8},{"t":"2026-05-24T12:30","v":28},{"t":"2026-05-24T13:15","v":23},{"t":"2026-05-24T14:00","v":19.1},{"t":"2026-05-24T14:45","v":16.2},{"t":"2026-05-24T15:30","v":13.7},{"t":"2026-05-24T16:15","v":12.7},{"t":"2026-05-24T17:00","v":12.9},{"t":"2026-05-24T17:45","v":14.7},{"t":"2026-05-24T18:30","v":17.2},{"t":"2026-05-24T19:15","v":19.6},{"t":"2026-05-24T20:00","v":21},{"t":"2026-05-24T20:45","v":23},{"t":"2026-05-24T21:30","v":24.5},{"t":"2026-05-24T22:15","v":25.5},{"t":"2026-05-24T23:00","v":26.5},{"t":"2026-05-24T23:45","v":27.5},
      {"t":"2026-05-25T00:30","v":27.7},{"t":"2026-05-25T01:15","v":27.2},{"t":"2026-05-25T01:45","v":30.4},{"t":"2026-05-25T02:30","v":32.4},{"t":"2026-05-25T03:15","v":33.8},{"t":"2026-05-25T04:00","v":34.3},{"t":"2026-05-25T04:45","v":36.3},{"t":"2026-05-25T05:30","v":37.7},{"t":"2026-05-25T06:15","v":41.2},{"t":"2026-05-25T07:00","v":45.1},{"t":"2026-05-25T07:45","v":48.5},{"t":"2026-05-25T08:30","v":50},{"t":"2026-05-25T09:00","v":47.1},{"t":"2026-05-25T09:45","v":44.6},{"t":"2026-05-25T10:30","v":43.1},{"t":"2026-05-25T11:15","v":41.7},{"t":"2026-05-25T12:00","v":40.7},{"t":"2026-05-25T12:45","v":38.7},{"t":"2026-05-25T13:30","v":35.8},{"t":"2026-05-25T14:15","v":35.8},{"t":"2026-05-25T15:00","v":36},{"t":"2026-05-25T15:30","v":38.7},{"t":"2026-05-25T16:00","v":43.6},{"t":"2026-05-25T16:30","v":57.4},{"t":"2026-05-25T17:00","v":68.1},{"t":"2026-05-25T17:30","v":86.3},{"t":"2026-05-25T18:00","v":89.2},{"t":"2026-05-25T18:30","v":93.6},{"t":"2026-05-25T19:00","v":101.5},{"t":"2026-05-25T19:30","v":102.9},{"t":"2026-05-25T20:00","v":106.9},{"t":"2026-05-25T20:30","v":107.6},{"t":"2026-05-25T21:15","v":107.6},{"t":"2026-05-25T21:45","v":109.8},{"t":"2026-05-25T22:15","v":109.3},{"t":"2026-05-25T22:45","v":104.9},{"t":"2026-05-25T23:15","v":104.4},{"t":"2026-05-25T23:30","v":84.3},
      {"t":"2026-05-26T00:00","v":74.5},{"t":"2026-05-26T00:30","v":57.4},{"t":"2026-05-26T01:00","v":51.5},{"t":"2026-05-26T01:30","v":49.5},{"t":"2026-05-26T02:00","v":42.6},{"t":"2026-05-26T02:30","v":39.7},{"t":"2026-05-26T03:00","v":38.7},{"t":"2026-05-26T03:30","v":39.7},{"t":"2026-05-26T04:00","v":40.2},{"t":"2026-05-26T04:30","v":49.5},{"t":"2026-05-26T05:00","v":57.4},{"t":"2026-05-26T05:30","v":63.2},{"t":"2026-05-26T06:00","v":71},{"t":"2026-05-26T06:30","v":75},{"t":"2026-05-26T07:15","v":78.9},{"t":"2026-05-26T07:45","v":84.3},{"t":"2026-05-26T08:15","v":85.8},{"t":"2026-05-26T08:45","v":87.3},{"t":"2026-05-26T09:15","v":88.2},{"t":"2026-05-26T09:45","v":89.2},{"t":"2026-05-26T10:15","v":88.2},{"t":"2026-05-26T10:45","v":86.8},{"t":"2026-05-26T11:15","v":86.3},{"t":"2026-05-26T11:45","v":68.1},{"t":"2026-05-26T12:15","v":63.2},{"t":"2026-05-26T12:45","v":55.9},{"t":"2026-05-26T13:15","v":53.4},{"t":"2026-05-26T13:45","v":48.5},{"t":"2026-05-26T14:30","v":44.6},{"t":"2026-05-26T15:00","v":42.6},{"t":"2026-05-26T15:30","v":41.7},{"t":"2026-05-26T16:00","v":42.2},{"t":"2026-05-26T16:30","v":58.3},{"t":"2026-05-26T17:00","v":71},{"t":"2026-05-26T17:30","v":73},{"t":"2026-05-26T18:00","v":74},{"t":"2026-05-26T18:30","v":73.5},{"t":"2026-05-26T19:00","v":93.6},{"t":"2026-05-26T19:30","v":94.1},{"t":"2026-05-26T20:00","v":93.6},{"t":"2026-05-26T20:30","v":92.6},{"t":"2026-05-26T21:00","v":92.2},{"t":"2026-05-26T21:30","v":94.8},{"t":"2026-05-26T22:00","v":94.1},{"t":"2026-05-26T22:30","v":94.8},{"t":"2026-05-26T23:00","v":95.1},{"t":"2026-05-26T23:30","v":94.6},
      {"t":"2026-05-27T00:00","v":65.2},{"t":"2026-05-27T00:30","v":61.3},{"t":"2026-05-27T01:00","v":66.2},{"t":"2026-05-27T01:30","v":66.4},{"t":"2026-05-27T02:00","v":55.4},{"t":"2026-05-27T02:30","v":55.2},{"t":"2026-05-27T03:00","v":58.3},{"t":"2026-05-27T03:45","v":61.8},{"t":"2026-05-27T04:15","v":62.3},{"t":"2026-05-27T04:45","v":74},{"t":"2026-05-27T05:15","v":78.4},{"t":"2026-05-27T05:45","v":78.9},{"t":"2026-05-27T06:15","v":91.7},{"t":"2026-05-27T06:45","v":94.6},{"t":"2026-05-27T07:15","v":98},{"t":"2026-05-27T07:45","v":100},{"t":"2026-05-27T08:15","v":98.5},{"t":"2026-05-27T08:45","v":93.6},{"t":"2026-05-27T09:15","v":82.8},{"t":"2026-05-27T09:45","v":78.9},{"t":"2026-05-27T10:15","v":73},{"t":"2026-05-27T11:00","v":70.1},{"t":"2026-05-27T11:30","v":65.2},{"t":"2026-05-27T12:00","v":55.4},{"t":"2026-05-27T12:30","v":48.5},{"t":"2026-05-27T13:00","v":46.6},{"t":"2026-05-27T13:30","v":33.3},{"t":"2026-05-27T14:00","v":32.4},{"t":"2026-05-27T14:30","v":27},{"t":"2026-05-27T15:00","v":24.2},{"t":"2026-05-27T15:45","v":26},{"t":"2026-05-27T16:15","v":25.5},{"t":"2026-05-27T16:45","v":28.4},{"t":"2026-05-27T17:30","v":29.9},{"t":"2026-05-27T18:15","v":41.7},{"t":"2026-05-27T19:00","v":43.6},{"t":"2026-05-27T19:45","v":46.1},{"t":"2026-05-27T20:30","v":48},{"t":"2026-05-27T21:15","v":49},{"t":"2026-05-27T21:45","v":50.5},{"t":"2026-05-27T22:30","v":50.5},{"t":"2026-05-27T23:00","v":47.5},{"t":"2026-05-27T23:45","v":44.6},
      {"t":"2026-05-28T00:30","v":43.6},{"t":"2026-05-28T01:00","v":39.7},{"t":"2026-05-28T01:30","v":33.8},{"t":"2026-05-28T02:15","v":33.3},{"t":"2026-05-28T02:45","v":34.3},{"t":"2026-05-28T03:15","v":37.3},{"t":"2026-05-28T04:00","v":39.7},{"t":"2026-05-28T04:45","v":43.6},{"t":"2026-05-28T05:30","v":53.4},{"t":"2026-05-28T06:00","v":63.2},{"t":"2026-05-28T06:30","v":75},{"t":"2026-05-28T07:00","v":77.9},{"t":"2026-05-28T07:45","v":80},{"t":"2026-05-28T08:30","v":80.6},{"t":"2026-05-28T09:15","v":79.4},{"t":"2026-05-28T09:45","v":76.9},{"t":"2026-05-28T10:30","v":73},{"t":"2026-05-28T11:15","v":66.2},{"t":"2026-05-28T12:00","v":64.2},{"t":"2026-05-28T12:30","v":53.4},{"t":"2026-05-28T13:00","v":38.7},{"t":"2026-05-28T13:30","v":37.7},{"t":"2026-05-28T14:00","v":35.8},{"t":"2026-05-28T14:30","v":32.8},{"t":"2026-05-28T15:15","v":31.4},{"t":"2026-05-28T16:00","v":32.8},{"t":"2026-05-28T16:45","v":33.3},{"t":"2026-05-28T17:15","v":32.4},{"t":"2026-05-28T18:00","v":33.3},{"t":"2026-05-28T18:45","v":34},{"t":"2026-05-28T19:15","v":37.3},{"t":"2026-05-28T20:00","v":38.7},{"t":"2026-05-28T20:45","v":43.6},{"t":"2026-05-28T21:30","v":55.4},{"t":"2026-05-28T22:00","v":59.3},{"t":"2026-05-28T22:45","v":65.2},{"t":"2026-05-28T23:30","v":76},
      {"t":"2026-05-29T00:00","v":78.9},{"t":"2026-05-29T00:30","v":88.2},{"t":"2026-05-29T01:00","v":94.6},{"t":"2026-05-29T01:30","v":96.6},{"t":"2026-05-29T02:00","v":94.6},{"t":"2026-05-29T02:30","v":94.6},{"t":"2026-05-29T03:00","v":95.6},{"t":"2026-05-29T03:30","v":97.3},{"t":"2026-05-29T04:00","v":95.6},{"t":"2026-05-29T04:30","v":89.7},{"t":"2026-05-29T05:00","v":90.2},{"t":"2026-05-29T05:30","v":93.1},{"t":"2026-05-29T06:00","v":91.9},{"t":"2026-05-29T06:30","v":92.6},{"t":"2026-05-29T07:00","v":93.1},{"t":"2026-05-29T07:30","v":84.8},{"t":"2026-05-29T08:00","v":84.8},{"t":"2026-05-29T08:45","v":78.9},{"t":"2026-05-29T09:15","v":76.9},{"t":"2026-05-29T10:00","v":75},{"t":"2026-05-29T10:45","v":69.1},{"t":"2026-05-29T11:30","v":63.2},{"t":"2026-05-29T12:00","v":57.4},{"t":"2026-05-29T12:30","v":51.5},{"t":"2026-05-29T13:15","v":43.6},{"t":"2026-05-29T14:00","v":31.9},{"t":"2026-05-29T14:45","v":28.4},{"t":"2026-05-29T15:15","v":26},{"t":"2026-05-29T16:00","v":26.5},{"t":"2026-05-29T16:45","v":27.9},{"t":"2026-05-29T17:30","v":38.7},{"t":"2026-05-29T18:00","v":46.6},{"t":"2026-05-29T18:30","v":51.5},{"t":"2026-05-29T19:00","v":55.4},{"t":"2026-05-29T19:30","v":57.8},{"t":"2026-05-29T20:00","v":61.3},{"t":"2026-05-29T20:30","v":67.2},{"t":"2026-05-29T21:00","v":72.5},{"t":"2026-05-29T21:45","v":73.1},{"t":"2026-05-29T22:30","v":75.1},{"t":"2026-05-29T23:00","v":73.1},{"t":"2026-05-29T23:45","v":73.1},
      {"t":"2026-05-30T00:15","v":69.1},{"t":"2026-05-30T00:45","v":65.2},{"t":"2026-05-30T01:15","v":53.4},{"t":"2026-05-30T01:45","v":52.5},{"t":"2026-05-30T02:15","v":52},{"t":"2026-05-30T03:00","v":52.5},{"t":"2026-05-30T03:30","v":46.6},{"t":"2026-05-30T04:00","v":46.1},{"t":"2026-05-30T04:30","v":46.6},{"t":"2026-05-30T05:15","v":49.5},{"t":"2026-05-30T05:45","v":52.5},{"t":"2026-05-30T06:15","v":54.4},{"t":"2026-05-30T06:45","v":58.3},{"t":"2026-05-30T07:30","v":59.3},{"t":"2026-05-30T08:00","v":62.7},{"t":"2026-05-30T08:45","v":62.4},{"t":"2026-05-30T09:15","v":61.3},{"t":"2026-05-30T10:00","v":55.9},{"t":"2026-05-30T10:45","v":52.5},{"t":"2026-05-30T11:30","v":49.5},{"t":"2026-05-30T12:15","v":43.6},{"t":"2026-05-30T13:00","v":38.7},{"t":"2026-05-30T13:45","v":33.8},{"t":"2026-05-30T14:30","v":31.9},{"t":"2026-05-30T15:00","v":25},{"t":"2026-05-30T15:45","v":23.5},{"t":"2026-05-30T16:30","v":21.3},{"t":"2026-05-30T17:15","v":20.6},{"t":"2026-05-30T17:45","v":20.1},{"t":"2026-05-30T18:15","v":24},{"t":"2026-05-30T19:00","v":26.5},{"t":"2026-05-30T19:45","v":28.9},{"t":"2026-05-30T20:30","v":30.9},{"t":"2026-05-30T21:15","v":34.8},{"t":"2026-05-30T21:45","v":41.7},{"t":"2026-05-30T22:15","v":45.6},{"t":"2026-05-30T22:45","v":49.5},{"t":"2026-05-30T23:15","v":53.4},
      {"t":"2026-05-31T00:00","v":56.4},{"t":"2026-05-31T00:45","v":57.8},{"t":"2026-05-31T01:15","v":59.8},{"t":"2026-05-31T01:45","v":58.3},{"t":"2026-05-31T02:15","v":58.3},{"t":"2026-05-31T02:45","v":57.1},{"t":"2026-05-31T03:30","v":58.3},{"t":"2026-05-31T04:00","v":55.4},{"t":"2026-05-31T04:30","v":49.5},{"t":"2026-05-31T05:00","v":48.5},{"t":"2026-05-31T05:30","v":44.6},{"t":"2026-05-31T06:15","v":39.2},{"t":"2026-05-31T07:00","v":39.7},{"t":"2026-05-31T07:45","v":40.7},{"t":"2026-05-31T08:30","v":41.2},{"t":"2026-05-31T09:30","v":41.2},{"t":"2026-05-31T10:00","v":38.7},{"t":"2026-05-31T10:45","v":37.3},{"t":"2026-05-31T11:30","v":36.3},{"t":"2026-05-31T12:15","v":36},{"t":"2026-05-31T13:00","v":35.3},{"t":"2026-05-31T13:30","v":32.8},{"t":"2026-05-31T14:00","v":28.9},{"t":"2026-05-31T14:45","v":24},{"t":"2026-05-31T15:30","v":20.1},{"t":"2026-05-31T16:15","v":18.9},{"t":"2026-05-31T17:00","v":18.6},{"t":"2026-05-31T17:45","v":20.1},{"t":"2026-05-31T18:30","v":22},{"t":"2026-05-31T19:15","v":22.8},{"t":"2026-05-31T20:00","v":26},{"t":"2026-05-31T20:45","v":28.9},{"t":"2026-05-31T21:30","v":31.4},{"t":"2026-05-31T22:15","v":33.3},{"t":"2026-05-31T22:45","v":35.8},{"t":"2026-05-31T23:00","v":47.5}
    ],
    "handles": [
      {"t": "2026-05-01T00:00"},
      {"t": "2026-05-31T23:00"}
    ]
  },
  "bounds": "flush",
  "spacing": 39,
  "vconcat": [
    {
      "width": 3606,
      "height": 1950,
      "layer": [
        {
          "data": {"name": "pm"},
          "mark": {
            "type": "area",
            "color": "#dfedf9",
            "opacity": 1,
            "fillOpacity": 1,
            "line": {"color": "#56a6e2", "strokeWidth": 2}
          },
          "encoding": {
            "x": {
              "field": "t",
              "type": "temporal",
              "scale": {
                "domain": [
                  {"year": 2026, "month": 5, "date": 1, "hours": 0},
                  {"year": 2026, "month": 5, "date": 31, "hours": 23}
                ],
                "nice": false
              },
              "axis": {
                "title": null,
                "tickCount": {"interval": "day", "step": 1},
                "labelExpr": "date(datum.value) == 1 ? '' : timeFormat(datum.value, '%d %b')",
                "labelFontSize": 21,
                "labelPadding": 9,
                "labelOverlap": false,
                "labelFlush": false
              }
            },
            "y": {
              "field": "v",
              "type": "quantitative",
              "scale": {"domain": [0, 159.3], "nice": false},
              "axis": {
                "title": "PM2.5 (µg/m³)",
                "values": [0, 5, 10, 15, 20, 25, 30, 35, 40, 45, 50, 55, 60, 65, 70, 75, 80, 85, 90, 95, 100, 105, 110, 115, 120, 125, 130, 135, 140, 145, 150, 155],
                "labelFontSize": 20.5,
                "labelPadding": 6,
                "labelOverlap": false,
                "titleFontSize": 24.5,
                "titleFontWeight": "normal",
                "titlePadding": 35,
                "titleY": 1026
              }
            }
          }
        },
        {
          "data": {"values": [{"limit": 15, "label": "WHO 24-hr 15 µg/m³"}]},
          "mark": {"type": "rule", "color": "#d9847a", "strokeWidth": 2, "strokeDash": [11, 7]},
          "encoding": {
            "y": {"field": "limit", "type": "quantitative"}
          }
        },
        {
          "data": {"values": [{"limit": 15, "label": "WHO 24-hr 15 µg/m³"}]},
          "mark": {
            "type": "text",
            "align": "left",
            "baseline": "alphabetic",
            "dx": 16,
            "dy": -7,
            "font": "Liberation Sans",
            "fontSize": 18.5,
            "color": "#d9847a"
          },
          "encoding": {
            "x": {"datum": {"year": 2026, "month": 5, "date": 1, "hours": 0}, "type": "temporal"},
            "y": {"field": "limit", "type": "quantitative"},
            "text": {"field": "label"}
          }
        },
        {
          "data": {"values": [{"label": "24"}]},
          "mark": {"type": "rect", "color": "#ffffff"},
          "encoding": {
            "x": {"datum": {"year": 2026, "month": 5, "date": 1, "hours": 0}, "type": "temporal"},
            "x2": {"datum": {"year": 2026, "month": 5, "date": 1, "hours": 8, "minutes": 45}},
            "y": {"datum": 0.3, "type": "quantitative"},
            "y2": {"datum": 2.9}
          }
        },
        {
          "data": {"values": [{"label": "24"}]},
          "mark": {
            "type": "text",
            "align": "left",
            "baseline": "alphabetic",
            "dx": 3,
            "font": "Liberation Serif",
            "fontSize": 24,
            "color": "#111111"
          },
          "encoding": {
            "x": {"datum": {"year": 2026, "month": 5, "date": 1, "hours": 0}, "type": "temporal"},
            "y": {"datum": 0.95, "type": "quantitative"},
            "text": {"field": "label"}
          }
        }
      ]
    },
    {
      "width": 3606,
      "height": 58,
      "layer": [
        {
          "data": {"name": "pm"},
          "mark": {
            "type": "area",
            "opacity": 1,
            "color": {
              "gradient": "linear",
              "x1": 0, "y1": 0, "x2": 0, "y2": 1,
              "stops": [
                {"offset": 0, "color": "#c9ced9"},
                {"offset": 1, "color": "#a3adbf"}
              ]
            },
            "line": {"color": "#7d8aa3", "strokeWidth": 1.6}
          },
          "encoding": {
            "x": {
              "field": "t",
              "type": "temporal",
              "scale": {
                "domain": [
                  {"year": 2026, "month": 5, "date": 1, "hours": 0},
                  {"year": 2026, "month": 5, "date": 31, "hours": 23}
                ],
                "nice": false
              },
              "axis": {
                "title": null,
                "labels": false,
                "ticks": false,
                "domainColor": "#50565f",
                "domainWidth": 3
              }
            },
            "y": {
              "field": "v",
              "type": "quantitative",
              "scale": {"domain": [-31.6, 186.5], "nice": false, "zero": false},
              "axis": null
            },
            "y2": {"datum": -31.6}
          }
        },
        {
          "data": {"name": "handles"},
          "mark": {"type": "rule", "color": "#50565f", "strokeWidth": 2},
          "encoding": {
            "x": {"field": "t", "type": "temporal"}
          }
        },
        {
          "data": {"name": "handles"},
          "mark": {
            "type": "point",
            "shape": "M-0.29,-1H0.29A0.25,0.25 0 0 1 0.54,-0.75V0.75A0.25,0.25 0 0 1 0.29,1H-0.29A0.25,0.25 0 0 1 -0.54,0.75V-0.75A0.25,0.25 0 0 1 -0.29,-1ZM-0.14,-0.6V0.6M0.14,-0.6V0.6",
            "size": 576,
            "filled": true,
            "fill": "#ffffff",
            "stroke": "#50565f",
            "strokeWidth": 1.5,
            "opacity": 1
          },
          "encoding": {
            "x": {"field": "t", "type": "temporal"}
          }
        }
      ]
    }
  ]
}
